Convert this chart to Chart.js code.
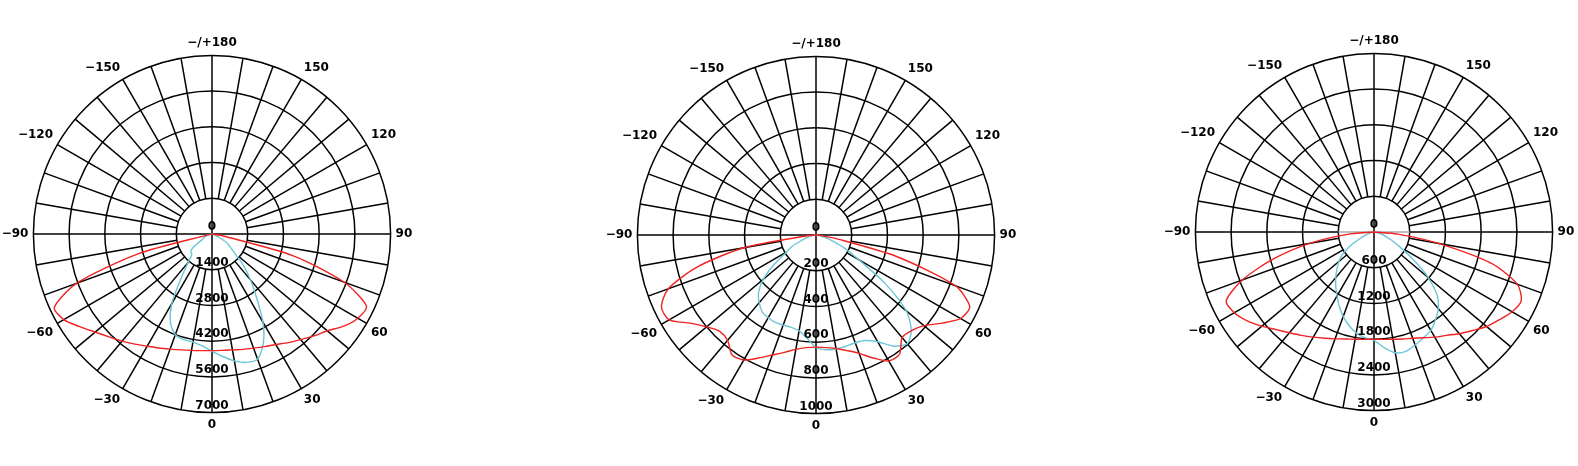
<!DOCTYPE html>
<html>
<head>
<meta charset="utf-8">
<title>Polar light distribution</title>
<script src="https://cdn.jsdelivr.net/npm/chart.js@4.4.1/dist/chart.umd.min.js"></script>
<style>
  html, body { margin: 0; padding: 0; background: #fff; overflow: hidden; }
  body { width: 1578px; height: 466px; position: relative; }
  .plot { position: absolute; top: 0; width: 480px; height: 466px; }
</style>
</head>
<body>
<div class="plot" style="left:-28px"><canvas id="c1" width="480" height="466"></canvas></div>
<div class="plot" style="left:576px"><canvas id="c2" width="480" height="466"></canvas></div>
<div class="plot" style="left:1134px"><canvas id="c3" width="480" height="466"></canvas></div>
<script>
// radar order: clockwise on screen starting at the bottom (0), left side is negative
const ANGLES = [0, -5, -10, -15, -20, -25, -30, -35, -40, -45, -50, -55, -60, -65, -70, -75, -80, -85,
  -90, -95, -100, -105, -110, -115, -120, -125, -130, -135, -140, -145, -150, -155, -160, -165, -170, -175,
  180, 175, 170, 165, 160, 155, 150, 145, 140, 135, 130, 125, 120, 115, 110, 105, 100, 95,
  90, 85, 80, 75, 70, 65, 60, 55, 50, 45, 40, 35, 30, 25, 20, 15, 10, 5];

// angles where the measured curves have values (lower half only)
const CURVE_ANGLES = [-90, -85, -80, -75, -70, -65, -60, -55, -50, -45, -40, -35, -30, -25, -20, -15, -10, -5,
  0, 5, 10, 15, 20, 25, 30, 35, 40, 45, 50, 55, 60, 65, 70, 75, 80, 85, 90];

// plot 1 (max 7000)
const MAX_1 = 7000, STEP_1 = 1400;
const RED_1 = [0, 0, 80, 3000, 5650, 6820, 6710, 6330, 5980, 5700, 5480, 5270, 5080, 4930, 4800, 4700, 4630, 4590,
  4570, 4580, 4610, 4680, 4760, 4870, 5000, 5200, 5400, 5650, 5900, 6300, 6600, 6680, 5500, 3300, 450, 0, 0];
const CYAN_1 = [0, 0, 50, 150, 250, 350, 460, 900, 1080, 1120, 1450, 2100, 3150, 3850, 4200, 4290, 4300, 4400,
  4600, 4820, 5050, 5210, 5220, 4750, 4000, 3050, 2350, 1750, 1150, 850, 650, 250, 80, 20, 0, 0, 0];

// plot 2 (max 1000)
const MAX_2 = 1000, STEP_2 = 200;
const RED_2 = [0, 50, 410, 685, 880, 955, 950, 860, 800, 763, 770, 820, 808, 760, 715, 680, 650, 633,
  628, 633, 645, 670, 705, 760, 815, 815, 750, 757, 790, 860, 935, 950, 830, 470, 110, 20, 0];
const CYAN_2 = [0, 0, 20, 50, 80, 145, 190, 285, 385, 455, 495, 525, 535, 540, 537, 535, 545, 580,
  630, 645, 648, 645, 642, 652, 690, 760, 795, 755, 660, 470, 275, 180, 100, 50, 15, 0, 0];

// plot 3 (max 3000)
const MAX_3 = 3000, STEP_3 = 600;
const RED_3 = [0, 450, 1100, 1750, 2350, 2740, 2710, 2600, 2460, 2320, 2210, 2120, 2040, 1970, 1910, 1860, 1830, 1810,
  1800, 1810, 1830, 1860, 1900, 1960, 2040, 2120, 2230, 2340, 2470, 2570, 2680, 2730, 2560, 2050, 1100, 400, 0];
const CYAN_3 = [0, 0, 30, 80, 150, 260, 440, 640, 770, 880, 1000, 1120, 1240, 1380, 1510, 1625, 1720, 1780,
  1820, 1950, 2060, 2075, 2020, 1960, 1910, 1800, 1680, 1500, 1190, 800, 500, 320, 200, 130, 50, 0, 0];

const RED = '#f02222';
const CYAN = '#6cc6d8';
const GRID = '#000';
const FONT = { family: "'DejaVu Sans', sans-serif", weight: 'bold', size: 12 };

function toRadar(values) {
  return ANGLES.map((a) => {
    const k = CURVE_ANGLES.indexOf(a);
    return k < 0 ? 0 : values[k];
  });
}

function angleLabel(a) {
  if (a === 180) return '\u2212/+180';
  if (a % 30 !== 0) return '';
  return String(a).replace('-', '\u2212');
}

// spokes every 10 deg (starting at the first ring, axes through the centre) + ring values
const polarGrid = {
  id: 'polarGrid',
  beforeDatasetsDraw(chart, args, opts) {
    const r = chart.scales.r;
    const ctx = chart.ctx;
    const inner = r.ticks[1].value;
    ctx.save();
    ctx.lineWidth = 1.5;
    ANGLES.forEach((a, i) => {
      if (a % 10 !== 0) return;
      const p0 = r.getPointPositionForValue(i, inner);
      const p1 = r.getPointPositionForValue(i, r.max);
      ctx.strokeStyle = GRID;
      ctx.beginPath();
      ctx.moveTo(p0.x, p0.y);
      ctx.lineTo(p1.x, p1.y);
      ctx.stroke();
      if (a % 90 === 0) {
        ctx.strokeStyle = (Math.abs(a) === 90 && opts.hubColor) ? opts.hubColor : GRID;
        ctx.beginPath();
        ctx.moveTo(r.xCenter, r.yCenter);
        ctx.lineTo(p0.x, p0.y);
        ctx.stroke();
      }
    });
    ctx.restore();
  },
  afterDatasetsDraw(chart) {
    const r = chart.scales.r;
    const ctx = chart.ctx;
    ctx.save();
    ctx.font = "bold 12px 'DejaVu Sans', sans-serif";
    ctx.fillStyle = '#000';
    ctx.textAlign = 'center';
    ctx.textBaseline = 'middle';
    r.ticks.forEach((t) => {
      const d = r.getDistanceFromCenterForValue(t.value);
      ctx.fillText(String(t.value), r.xCenter, r.yCenter + d - 7);
    });
    ctx.restore();
  }
};

function drawPolar(id, max, step, red, cyan, pad, hubColor) {
  return new Chart(document.getElementById(id), {
    type: 'radar',
    data: {
      labels: ANGLES.map(angleLabel),
      datasets: [
        { data: toRadar(red), borderColor: RED, borderWidth: 1.4, pointRadius: 0, fill: false, tension: 0.25 },
        { data: toRadar(cyan), borderColor: CYAN, borderWidth: 1.4, pointRadius: 0, fill: false, tension: 0.25 }
      ]
    },
    options: {
      responsive: false,
      animation: false,
      layout: { padding: pad },
      plugins: {
        legend: { display: false },
        tooltip: { enabled: false },
        polarGrid: { hubColor: hubColor }
      },
      scales: {
        r: {
          min: 0,
          max: max,
          startAngle: 180,
          ticks: { stepSize: step, display: false },
          grid: { circular: true, color: GRID, lineWidth: 1.5 },
          angleLines: { display: false },
          pointLabels: { font: FONT, color: '#000', padding: 5 }
        }
      }
    },
    plugins: [polarGrid]
  });
}

drawPolar('c1', MAX_1, STEP_1, RED_1, CYAN_1, { top: 36, bottom: 33, left: 0, right: 0 }, null);
drawPolar('c2', MAX_2, STEP_2, RED_2, CYAN_2, { top: 37, bottom: 32, left: 0, right: 0 }, null);
drawPolar('c3', MAX_3, STEP_3, RED_3, CYAN_3, { top: 34, bottom: 35, left: 0, right: 0 }, '#aaa');
</script>
</body>
</html>
